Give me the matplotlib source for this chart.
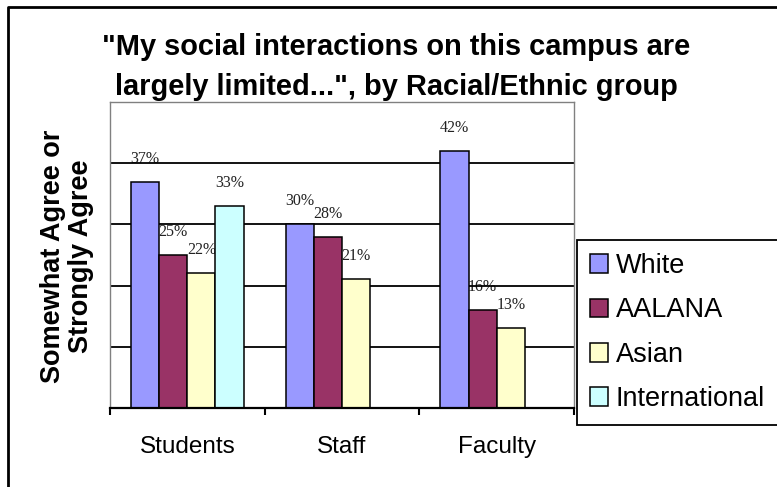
import matplotlib.pyplot as plt
import numpy as np
from matplotlib.lines import Line2D
from matplotlib.patches import Patch

groups = ["Students", "Staff", "Faculty"]
series_names = ["White", "AALANA", "Asian", "International"]
white = [37, 30, 42]
aalana = [25, 28, 16]
asian = [22, 21, 13]
international = [33, None, None]
colors = ["#9999FF", "#993366", "#FFFFCC", "#CCFFFF"]

W, H = 777, 487
fig = plt.figure(figsize=(W / 100, H / 100), dpi=100)
ax = fig.add_axes([110 / W, 1 - 408 / H, (574 - 110) / W, (408 - 102) / H])

bar_w = 28 / 154
x = np.arange(len(groups))
offsets = (np.arange(len(series_names)) - 1.5) * bar_w

for vals, color, off in zip([white, aalana, asian, international], colors, offsets):
    xs = [xi + off for xi, v in zip(x, vals) if v is not None]
    ys = [v for v in vals if v is not None]
    ax.bar(xs, ys, width=bar_w, color=color, edgecolor="black", linewidth=1.1, zorder=2)
    for xi, v in zip(xs, ys):
        ax.annotate(f"{v}%", (xi, v), xytext=(0, 23), textcoords="offset pixels",
                    ha="center", va="center", fontfamily="Liberation Serif",
                    fontsize=11.5, color="#222222", zorder=1)

ax.set_xlim(-0.5, 2.5)
ax.set_ylim(0, 50)
ax.set_yticks([10, 20, 30, 40])
ax.tick_params(axis="y", length=0, labelleft=False)
ax.set_axisbelow("line")
ax.yaxis.grid(True, color="black", linewidth=1.3)

# category boundaries get the tick marks, names sit between them
ax.set_xticks([-0.5, 0.5, 1.5, 2.5])
ax.set_xticks(x, minor=True)
ax.set_xticklabels([], minor=False)
ax.set_xticklabels(groups, minor=True, fontsize=17.5, fontfamily="Liberation Sans")
ax.tick_params(axis="x", which="major", length=5, width=1.5, color="black")
ax.tick_params(axis="x", which="minor", length=0, pad=20)

for side in ["left", "top", "right"]:
    ax.spines[side].set_color("#808080")
    ax.spines[side].set_linewidth(1.0)
ax.spines["bottom"].set_color("black")
ax.spines["bottom"].set_linewidth(1.6)

fig.text(396 / W, 1 - 47 / H, '"My social interactions on this campus are',
         ha="center", va="center", fontsize=20.9, fontweight="bold", fontfamily="Liberation Sans")
fig.text(396 / W, 1 - 87 / H, 'largely limited...", by Racial/Ethnic group',
         ha="center", va="center", fontsize=20.9, fontweight="bold", fontfamily="Liberation Sans")
fig.text(67 / W, 1 - 256 / H, "Somewhat Agree or\nStrongly Agree", rotation=90,
         ha="center", va="center", fontsize=19.5, fontweight="bold", fontfamily="Liberation Sans",
         linespacing=1.1)

handles = [Patch(facecolor=c, edgecolor="black", linewidth=1.1) for c in colors]
leg = fig.legend(handles, series_names, loc="upper left", mode="expand",
                 bbox_to_anchor=(577 / W, 69 / H, 0.4, 178 / H),
                 prop={"family": "Liberation Sans", "size": 19.5},
                 frameon=True, fancybox=False, edgecolor="black", framealpha=1,
                 borderaxespad=0, borderpad=0.48, handlelength=0.68, handleheight=0.68,
                 handletextpad=0.28, labelspacing=0.68)
leg.get_frame().set_linewidth(1.3)

# chart frame, runs off the right and bottom edges
fig.add_artist(Line2D([8 / W, 8 / W, 1.01], [-0.01, 1 - 7 / H, 1 - 7 / H],
                      transform=fig.transFigure, color="black", linewidth=2))

fig.savefig("out.png", dpi=100)
